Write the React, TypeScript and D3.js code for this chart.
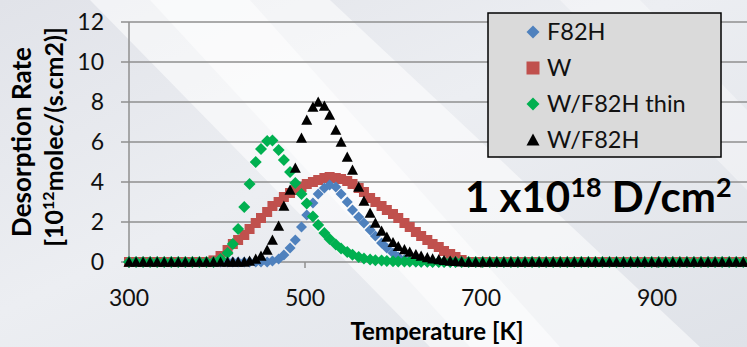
import React, { useEffect, useRef } from "react";
import * as d3 from "d3";

// temperature grid [K], shared by all four series
const temps = [
  300, 308, 316, 324, 332, 340, 348, 356, 364, 372, 380, 388, 396, 404, 412,
  418, 424, 431, 437, 444, 450, 457, 463, 470, 476, 483, 489, 496, 502, 509,
  515, 522, 528, 535, 541, 548, 554, 561, 567, 574, 580, 587, 593, 600, 606,
  613, 619, 626, 632, 639, 645, 652, 658, 665, 671, 678,
  686, 694, 702, 710, 718, 726, 734, 742, 750, 758, 766, 774, 782, 790, 798,
  806, 814, 822, 830, 838, 846, 854, 862, 870, 878, 886, 894, 902, 910, 918,
  926, 934, 942, 950, 958, 966, 974, 982, 990, 998, 1006,
];

// desorption rate [10^12 molec/(s.cm2)]
const f82h = [
  0, 0, 0, 0, 0, 0, 0, 0, 0, 0, 0, 0, 0, 0, 0,
  0, 0, 0, 0, 0, 0, 0, 0.05, 0.15, 0.35, 0.7, 1.1, 1.75, 2.35, 2.95,
  3.4, 3.7, 3.85, 3.75, 3.4, 3.0, 2.6, 2.25, 1.95, 1.6, 1.3, 0.95, 0.7, 0.45, 0.25,
  0.12, 0.05, 0, 0, 0, 0, 0, 0, 0, 0, 0,
  0, 0, 0, 0, 0, 0, 0, 0, 0, 0, 0, 0, 0, 0, 0,
  0, 0, 0, 0, 0, 0, 0, 0, 0, 0, 0, 0, 0, 0, 0,
  0, 0, 0, 0, 0, 0, 0, 0, 0, 0, 0,
];
const w = [
  0, 0, 0, 0, 0, 0, 0, 0, 0, 0, 0, 0, 0.08, 0.3, 0.6,
  0.9, 1.1, 1.35, 1.65, 1.95, 2.2, 2.5, 2.8, 3.0, 3.25, 3.45, 3.6, 3.75, 3.9, 4.0,
  4.1, 4.2, 4.25, 4.2, 4.15, 4.05, 3.9, 3.7, 3.5, 3.2, 3.0, 2.8, 2.6, 2.4, 2.2,
  1.95, 1.75, 1.5, 1.3, 1.1, 0.9, 0.75, 0.55, 0.4, 0.25, 0.1,
  0, 0, 0, 0, 0, 0, 0, 0, 0, 0, 0, 0, 0, 0, 0,
  0, 0, 0, 0, 0, 0, 0, 0, 0, 0, 0, 0, 0, 0, 0,
  0, 0, 0, 0, 0, 0, 0, 0, 0, 0, 0,
];
const wf82hThin = [
  0, 0, 0, 0, 0, 0, 0, 0, 0, 0, 0, 0, 0, 0.15, 0.45,
  0.9, 1.65, 2.75, 3.9, 5.0, 5.65, 6.05, 6.08, 5.6, 5.1, 4.5, 3.95, 3.4, 2.93, 2.27,
  1.85, 1.45, 1.15, 0.88, 0.68, 0.5, 0.36, 0.25, 0.17, 0.12, 0.09, 0.07, 0.05, 0.04, 0.03,
  0.03, 0.02, 0.02, 0.01, 0.01, 0, 0, 0, 0, 0, 0,
  0, 0, 0, 0, 0, 0, 0, 0, 0, 0, 0, 0, 0, 0, 0,
  0, 0, 0, 0, 0, 0, 0, 0, 0, 0, 0, 0, 0, 0, 0,
  0, 0, 0, 0, 0, 0, 0, 0, 0, 0, 0,
];
const wf82h = [
  0, 0, 0, 0, 0, 0, 0, 0, 0, 0, 0, 0, 0, 0, 0,
  0, 0, 0, 0.05, 0.15, 0.3, 0.6, 1.1, 1.8, 2.8, 3.6, 4.7, 6.2, 7.1, 7.75,
  8.0, 7.8, 7.35, 6.6, 6.0, 5.25, 4.6, 3.75, 3.05, 2.45, 1.95, 1.55, 1.25, 0.98, 0.78,
  0.62, 0.5, 0.38, 0.3, 0.22, 0.16, 0.12, 0.08, 0.05, 0.03, 0.01,
  0, 0, 0, 0, 0, 0, 0, 0, 0, 0, 0, 0, 0, 0, 0,
  0, 0, 0, 0, 0, 0, 0, 0, 0, 0, 0, 0, 0, 0, 0,
  0, 0, 0, 0, 0, 0, 0, 0, 0, 0, 0,
];

const yTicks = [0, 2, 4, 6, 8, 10, 12];
const xTicks = [300, 500, 700, 900];

const seriesNames = ["F82H", "W", "W/F82H thin", "W/F82H"];
const seriesColors = ["#4f81bd", "#c0504d", "#00b050", "#000000"];
const seriesShapes = ["diamond", "square", "diamond", "triangle"];
// drawing order (back to front)
const drawOrder = [1, 0, 2, 3];

const FONT = "Lato, 'Open Sans', sans-serif";

function markerPath(shape: string, s: number) {
  const r = s / 2;
  if (shape === "diamond") return `M0,${-r}L${r},0L0,${r}L${-r},0Z`;
  if (shape === "square") return `M${-r},${-r}H${r}V${r}H${-r}Z`;
  return `M0,${-r}L${r},${r * 0.85}L${-r},${r * 0.85}Z`;
}

const App: React.FC = () => {
  const svgRef = useRef(null);

  useEffect(() => {
    if (!svgRef.current) return;
    const svg = d3.select(svgRef.current);
    svg.selectAll("*").remove();

    const width = 747;
    const height = 347;
    const x = d3.scaleLinear().domain([300, 1000]).range([129, 745]);
    const y = d3.scaleLinear().domain([0, 12]).range([262, 22]);
    const allSeries = [f82h, w, wf82hThin, wf82h];
    const sizes = [11, 10, 12, 11];

    // background
    const defs = svg.append("defs");
    const grad = defs
      .append("linearGradient")
      .attr("id", "bg")
      .attr("x1", "0")
      .attr("y1", "0")
      .attr("x2", "1")
      .attr("y2", "1");
    grad.append("stop").attr("offset", "0%").attr("stop-color", "#e1e3e9");
    grad.append("stop").attr("offset", "45%").attr("stop-color", "#eceef2");
    grad.append("stop").attr("offset", "100%").attr("stop-color", "#dfe2e8");
    svg
      .append("rect")
      .attr("width", width)
      .attr("height", height)
      .attr("fill", "url(#bg)");
    svg
      .append("path")
      .attr("d", "M90,0L330,0L700,347L430,347Z")
      .attr("fill", "#ffffff")
      .attr("opacity", 0.55);
    svg
      .append("path")
      .attr("d", "M150,0L250,0L560,347L470,347Z")
      .attr("fill", "#ffffff")
      .attr("opacity", 0.5);
    svg
      .append("path")
      .attr("d", "M560,0L640,0L747,110L747,190Z")
      .attr("fill", "#ffffff")
      .attr("opacity", 0.35);

    // grid
    svg
      .append("g")
      .selectAll("line")
      .data(yTicks)
      .join("line")
      .attr("x1", 121)
      .attr("x2", width)
      .attr("y1", (d) => y(d))
      .attr("y2", (d) => y(d))
      .attr("stroke", "#8f8f8f")
      .attr("stroke-width", 1.5);

    svg
      .append("line")
      .attr("x1", x(300))
      .attr("x2", x(300))
      .attr("y1", y(12))
      .attr("y2", y(0) + 6)
      .attr("stroke", "#8f8f8f")
      .attr("stroke-width", 1.5);

    svg
      .append("g")
      .selectAll("line")
      .data(xTicks)
      .join("line")
      .attr("x1", (d) => x(d))
      .attr("x2", (d) => x(d))
      .attr("y1", y(0))
      .attr("y2", y(0) + 6)
      .attr("stroke", "#8f8f8f")
      .attr("stroke-width", 1.5);

    // tick labels
    svg
      .append("g")
      .selectAll("text")
      .data(yTicks)
      .join("text")
      .attr("x", 104)
      .attr("y", (d) => y(d) + 8)
      .attr("text-anchor", "end")
      .style("font-family", FONT)
      .style("font-size", "23px")
      .attr("fill", "#111")
      .text((d) => d);

    svg
      .append("g")
      .selectAll("text")
      .data(xTicks)
      .join("text")
      .attr("x", (d) => x(d))
      .attr("y", 306)
      .attr("text-anchor", "middle")
      .style("font-family", FONT)
      .style("font-size", "23px")
      .attr("fill", "#111")
      .text((d) => d);

    // series
    const clip = defs.append("clipPath").attr("id", "plotclip");
    clip.append("rect").attr("x", 110).attr("y", 0).attr("width", 640).attr("height", 280);
    const plot = svg.append("g").attr("clip-path", "url(#plotclip)");
    drawOrder.forEach((si) => {
      const vals = allSeries[si];
      plot
        .append("g")
        .selectAll("path")
        .data(temps.map((t, i) => ({ t, v: vals[i] })))
        .join("path")
        .attr("transform", (d) => `translate(${x(d.t)},${y(d.v)})`)
        .attr("d", markerPath(seriesShapes[si], sizes[si]))
        .attr("fill", seriesColors[si]);
    });

    // legend
    const lg = svg.append("g");
    lg.append("rect")
      .attr("x", 488)
      .attr("y", 13)
      .attr("width", 233)
      .attr("height", 144)
      .attr("fill", "#dadada")
      .attr("stroke", "#000")
      .attr("stroke-width", 1.5);
    const legendY = [32, 68, 104, 140];
    seriesNames.forEach((name, i) => {
      lg.append("path")
        .attr("transform", `translate(533,${legendY[i]})`)
        .attr("d", markerPath(seriesShapes[i], 13))
        .attr("fill", seriesColors[i]);
      lg.append("text")
        .attr("x", 547)
        .attr("y", legendY[i] + 8)
        .style("font-family", FONT)
        .style("font-size", "23.5px")
        .attr("fill", "#111")
        .text(name);
    });

    // annotation
    const ann = svg
      .append("text")
      .attr("x", 465)
      .attr("y", 212)
      .style("font-family", FONT)
      .style("font-size", "42px")
      .style("font-weight", "bold")
      .attr("fill", "#000");
    ann.append("tspan").text("1 x10");
    ann.append("tspan").attr("dy", -15).style("font-size", "27px").text("18");
    ann.append("tspan").attr("dy", 15).text(" D/cm");
    ann.append("tspan").attr("dy", -15).style("font-size", "27px").text("2");

    // axis titles
    svg
      .append("text")
      .attr("x", 437)
      .attr("y", 340)
      .attr("text-anchor", "middle")
      .style("font-family", FONT)
      .style("font-size", "24px")
      .style("font-weight", "bold")
      .attr("fill", "#000")
      .text("Temperature [K]");

    svg
      .append("text")
      .attr("transform", "translate(31,142) rotate(-90)")
      .attr("text-anchor", "middle")
      .style("font-family", FONT)
      .style("font-size", "26px")
      .style("font-weight", "bold")
      .attr("fill", "#000")
      .text("Desorption Rate");
    const yt2 = svg
      .append("text")
      .attr("transform", "translate(63,137) rotate(-90)")
      .attr("text-anchor", "middle")
      .style("font-family", FONT)
      .style("font-size", "25px")
      .style("font-weight", "bold")
      .attr("fill", "#000");
    yt2.append("tspan").text("[10");
    yt2.append("tspan").attr("dy", -9).style("font-size", "16px").text("12");
    yt2.append("tspan").attr("dy", 9).text("molec/(s.cm2)]");
  }, []);

  return (
    <svg
      ref={svgRef}
      width={747}
      height={347}
      style={{ position: "absolute", left: 0, top: 0, display: "block" }}
    />
  );
};

export default App;
